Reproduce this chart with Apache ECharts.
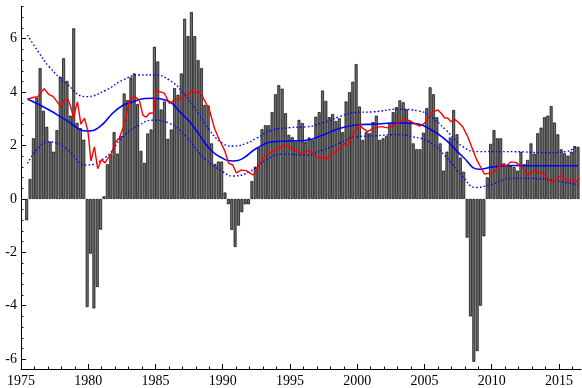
<!DOCTYPE html>
<html><head><meta charset="utf-8">
<script src="https://cdn.jsdelivr.net/npm/echarts@6/dist/echarts.min.js"></script>
<style>html,body{margin:0;padding:0;background:#fff}#c{width:582px;height:388px}</style>
</head><body><div id="c"></div>
<script>
// quarterly bars
const firstQuarter = 1975.42;
const quarterStep = 0.25;
const growth = [
 -0.8, 0.75, 2.27, 3.8, 4.9, 3.3, 2.7, 2.15, 1.77, 2.58,
 4.58, 5.27, 4.42, 3.12, 6.39, 2.85, 2.65, 2.22, -4.05, -2.05,
 -4.1, -3.3, -1.15, 0.1, 1.3, 1.65, 2.5, 1.7, 2.35, 3.95,
 3.7, 4.55, 4.7, 3.55, 1.8, 1.35, 2.45, 2.6, 5.7, 5.15,
 3.35, 3.65, 2.25, 2.6, 4.15, 3.9, 4.7, 6.75, 6.1, 7.0,
 6.1, 5.2, 4.9, 3.52, 3.5, 2.08, 1.31, 1.4, 1.4, 0.24,
 -0.2, -1.16, -1.8, -1.0, -0.5, -0.2, -0.2, 0.67, 1.21, 1.92,
 2.61, 2.76, 2.76, 3.25, 3.92, 4.26, 4.13, 3.21, 2.4, 2.31,
 2.15, 2.96, 2.84, 2.15, 2.3, 2.2, 3.08, 3.25, 4.06, 3.67,
 3.06, 3.18, 2.92, 3.02, 2.5, 3.65, 4.0, 4.39, 5.05, 3.46,
 2.21, 2.5, 2.46, 2.88, 3.12, 2.21, 2.27, 2.36, 2.84, 3.25,
 3.44, 3.69, 3.62, 3.36, 2.92, 2.08, 1.86, 1.86, 2.48, 3.4,
 4.18, 3.92, 3.06, 2.08, 1.06, 1.77, 2.3, 3.33, 2.42, 1.55,
 1.02, -1.45, -4.4, -6.1, -5.7, -4.0, -1.4, 0.81, 2.06, 2.58,
 2.27, 2.27, 1.33, 1.27, 1.25, 1.19, 1.06, 1.76, 1.3, 1.46,
 2.08, 1.69, 2.46, 2.67, 3.06, 3.12, 3.48, 2.86, 2.42, 1.86,
 1.71, 1.62, 1.77, 1.98, 1.95
];

// blue solid trend
const trendYears = [1975.48,1977.1,1978.36,1979.97,1980.84,1982.08,1983.3,1984.8,1985.8,1987.03,1987.53,1988.27,1989.01,1990.0,1990.75,1991.5,1992.49,1993.72,1994.96,1996.2,1997.44,1998.68,1999.92,2001.16,2003.1,2004.1,2005.34,2006.6,2007.85,2009.09,2010.08,2011.57,2014.05,2016.4];
const trendValues = [3.74,3.33,2.95,2.54,2.7,3.33,3.64,3.77,3.7,3.15,2.9,2.4,1.89,1.52,1.42,1.52,1.89,2.14,2.17,2.2,2.39,2.64,2.77,2.8,2.85,2.83,2.64,2.2,1.58,1.11,1.2,1.25,1.24,1.24];

// blue dotted upper band
const upperYears = [1975.48,1976.3,1977.1,1978.36,1979.85,1981.33,1982.57,1983.81,1984.8,1986.04,1987.28,1988.27,1989.01,1990.0,1990.75,1991.76,1992.49,1993.72,1994.96,1996.2,1997.44,1998.68,1999.92,2001.16,2003.1,2004.6,2005.34,2006.6,2007.85,2009.09,2011.57,2014.05,2015.5,2016.0,2016.4];
const upperValues = [6.14,5.5,4.95,4.33,3.83,4.08,4.45,4.64,4.64,4.45,3.83,3.14,2.58,2.08,1.98,2.08,2.27,2.58,2.67,2.7,2.85,3.08,3.24,3.26,3.36,3.29,3.14,2.58,1.96,1.77,1.77,1.73,1.77,1.86,1.98];

// blue dotted lower band
const lowerYears = [1975.48,1976.38,1977.1,1978.36,1979.85,1981.33,1982.57,1983.81,1984.8,1986.04,1987.28,1988.27,1988.77,1990.0,1990.75,1992.0,1993.23,1994.47,1996.2,1997.44,1998.68,1999.92,2001.16,2003.1,2004.1,2005.34,2006.6,2007.85,2008.84,2009.83,2011.57,2012.8,2014.05,2015.3,2016.4];
const lowerValues = [1.33,1.96,2.14,1.89,1.27,1.58,2.33,2.77,2.95,2.83,2.33,1.71,1.46,1.02,0.86,1.02,1.46,1.68,1.64,1.83,2.08,2.33,2.36,2.41,2.33,2.14,1.58,0.83,0.43,0.52,0.77,0.77,0.73,0.64,0.52];

// red line
const redYears = [1975.48,1975.88,1976.25,1976.72,1977.05,1977.4,1977.95,1978.23,1978.48,1978.68,1978.9,1979.2,1979.45,1979.72,1979.98,1980.2,1980.46,1980.7,1980.98,1981.25,1981.45,1981.7,1982.05,1982.33,1982.7,1983.07,1983.44,1983.8,1984.06,1984.3,1984.55,1984.85,1985.05,1985.3,1985.66,1986.04,1986.4,1986.9,1987.28,1987.53,1987.78,1988.02,1988.27,1988.64,1989.01,1989.39,1989.76,1990.13,1990.45,1990.75,1991.0,1991.37,1991.74,1992.24,1992.49,1992.73,1993.1,1993.48,1993.85,1994.22,1994.47,1994.96,1995.46,1995.95,1996.32,1996.7,1997.07,1997.44,1997.69,1998.06,1998.43,1998.8,1999.05,1999.3,1999.67,1999.92,2000.17,2000.42,2000.78,2001.16,2001.53,2001.9,2002.27,2002.64,2003.14,2003.5,2003.88,2004.25,2004.63,2005.0,2005.25,2005.62,2006.0,2006.24,2006.49,2006.74,2006.99,2007.24,2007.48,2007.85,2008.22,2008.6,2008.89,2009.22,2009.46,2009.83,2010.2,2010.7,2011.08,2011.45,2011.82,2012.2,2012.7,2013.2,2013.7,2014.05,2014.43,2014.8,2015.16,2015.41,2015.78,2016.28,2016.52];
const redValues = [3.74,3.8,3.83,4.13,3.92,3.83,3.46,3.7,3.73,3.48,3.05,3.64,2.8,3.02,2.53,1.42,1.95,1.13,1.47,1.35,1.52,1.68,2.14,2.3,2.83,3.7,3.83,3.7,3.14,3.06,3.21,3.23,4.08,4.02,3.96,3.58,3.7,3.77,3.89,3.95,4.08,3.96,4.02,3.7,3.33,2.64,2.2,1.83,1.33,1.27,0.98,1.08,1.06,0.9,1.02,1.33,1.58,1.71,1.83,1.89,2.02,1.96,1.79,1.71,1.8,1.73,1.52,1.58,1.48,1.68,1.77,1.96,2.08,2.02,2.39,2.58,2.8,2.64,2.52,2.64,2.7,2.7,2.66,2.73,2.89,2.99,2.93,2.83,2.73,2.83,3.02,3.27,3.33,3.21,3.04,3.02,2.89,2.98,2.89,2.7,2.33,1.83,1.46,1.15,0.93,0.96,1.02,1.3,1.24,1.39,1.36,1.2,0.9,1.04,0.98,0.83,0.64,0.7,0.9,0.73,0.7,0.64,0.77];

const xMajorTicks = [1975,1980,1985,1990,1995,2000,2005,2010,2015];
const xMinorTicks = [1976,1977,1978,1979,1981,1982,1983,1984,1986,1987,1988,1989,1991,1992,1993,1994,1996,1997,1998,1999,2001,2002,2003,2004,2006,2007,2008,2009,2011,2012,2013,2014,2016];
const yMajorTicks = [-6,-4,-2,0,2,4,6];
const yMinorTicks = [-5.6,-5.2,-4.8,-4.4,-3.6,-3.2,-2.8,-2.4,-1.6,-1.2,-0.8,-0.4,0.4,0.8,1.2,1.6,2.4,2.8,3.2,3.6,4.4,4.8,5.2,5.6,6.4,6.8,7.2];

const X_MIN = 1975, X_MAX = 2016.64, Y_MIN = -6.37, Y_MAX = 7.2;
const pair = (xs, ys) => xs.map((x, i) => [x, ys[i]]);
const barData = growth.map((v, i) => [firstQuarter + quarterStep * i, v]);
const font = 'Liberation Serif';

const chart = echarts.init(document.getElementById('c'), null, {renderer: 'canvas'});
chart.setOption({
  animation: false,
  backgroundColor: '#fff',
  grid: {left: 21, right: 1, top: 6.7, bottom: 19, containLabel: false},
  xAxis: [
    {type: 'value', min: X_MIN, max: X_MAX, position: 'bottom', offset: 0,
     axisLine: {show: true, onZero: false, lineStyle: {color: '#000', width: 1}},
     axisTick: {show: true, inside: true, length: 5, customValues: xMajorTicks, lineStyle: {color: '#000'}},
     axisLabel: {show: true, customValues: xMajorTicks, color: '#000', fontFamily: font, fontSize: 14, margin: 5, formatter: v => String(v)},
     splitLine: {show: false}},
    {type: 'value', min: X_MIN, max: X_MAX, position: 'bottom', offset: 0,
     axisLine: {show: false, onZero: false},
     axisTick: {show: true, inside: true, length: 2.5, customValues: xMinorTicks, lineStyle: {color: '#000'}},
     axisLabel: {show: false}, splitLine: {show: false}}
  ],
  yAxis: [
    {type: 'value', min: Y_MIN, max: Y_MAX, position: 'left', offset: 0,
     axisLine: {show: true, onZero: false, lineStyle: {color: '#000', width: 1}},
     axisTick: {show: true, inside: true, length: 5, customValues: yMajorTicks, lineStyle: {color: '#000'}},
     axisLabel: {show: true, customValues: yMajorTicks, color: '#000', fontFamily: font, fontSize: 14, margin: 4, formatter: v => String(v)},
     splitLine: {show: false}},
    {type: 'value', min: Y_MIN, max: Y_MAX, position: 'left', offset: 0,
     axisLine: {show: false, onZero: false},
     axisTick: {show: true, inside: true, length: 2.5, customValues: yMinorTicks, lineStyle: {color: '#000'}},
     axisLabel: {show: false}, splitLine: {show: false}}
  ],
  series: [
    {type: 'bar', xAxisIndex: 0, yAxisIndex: 0, data: barData, barWidth: 2.9,
     itemStyle: {color: '#707070', borderColor: '#000', borderWidth: 0.7}},
    {type: 'line', data: pair(upperYears, upperValues), smooth: 0.5, showSymbol: false,
     lineStyle: {color: '#0000ff', width: 1.4, type: [1.6, 2.2]}},
    {type: 'line', data: pair(lowerYears, lowerValues), smooth: 0.5, showSymbol: false,
     lineStyle: {color: '#0000ff', width: 1.4, type: [1.6, 2.2]}},
    {type: 'line', data: pair(trendYears, trendValues), smooth: 0.5, showSymbol: false,
     lineStyle: {color: '#0000ff', width: 1.6}},
    {type: 'line', data: pair(redYears, redValues), smooth: false, showSymbol: false,
     lineStyle: {color: '#ff0000', width: 1.4}}
  ]
});
</script></body></html>
